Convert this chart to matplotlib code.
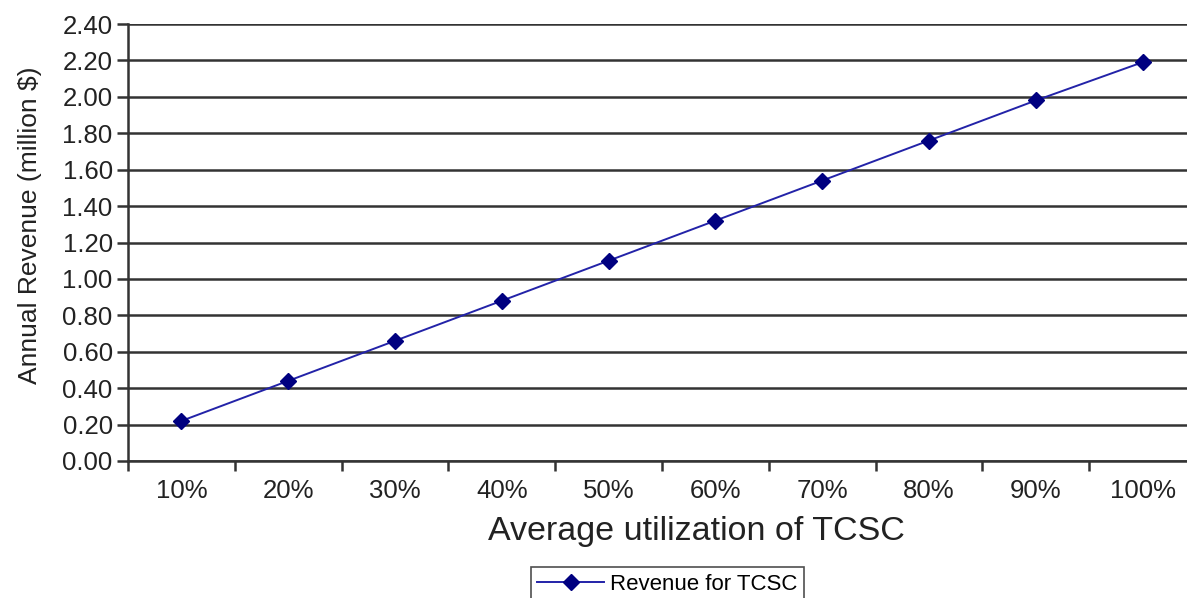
import matplotlib
matplotlib.use("Agg")
import matplotlib.pyplot as plt
import numpy as np

categories = ["10%", "20%", "30%", "40%", "50%", "60%", "70%", "80%", "90%", "100%"]
revenue = [0.22, 0.44, 0.66, 0.88, 1.10, 1.32, 1.54, 1.76, 1.98, 2.19]
yticks = [0.0, 0.2, 0.4, 0.6, 0.8, 1.0, 1.2, 1.4, 1.6, 1.8, 2.0, 2.2, 2.4]

plt.rcParams['font.family'] = ['Liberation Sans', 'DejaVu Sans']

fig = plt.figure(figsize=(11.87, 5.98), dpi=100)
W, H = 1187, 598
left, right, top, bottom = 128, 1196, 24, 461
ax = fig.add_axes([left / W, 1 - bottom / H, (right - left) / W, (bottom - top) / H])

x = np.arange(len(categories))
ax.plot(x, revenue, color='#2323a8', lw=1.4, marker='D', markersize=8,
        markerfacecolor='#000080', markeredgecolor='#000080', label='Revenue for TCSC',
        zorder=3)

ax.set_xlim(-0.5, len(categories) - 0.5)
ax.set_ylim(0, 2.4)
ax.set_yticks(yticks)
ax.set_yticklabels([f"{v:.2f}" for v in yticks])
ax.yaxis.grid(True, color='#333333', lw=1.8)
ax.set_axisbelow(True)

ax.set_xticks(x)
ax.set_xticklabels(categories)
ax.set_xticks(np.arange(-0.5, len(categories)), minor=True)
ax.tick_params(axis='x', which='major', length=0, pad=13, labelsize=18.5, colors='#222222')
ax.tick_params(axis='x', which='minor', length=7, width=1.8, color='#333333', direction='out')
ax.tick_params(axis='y', length=8, width=1.8, color='#333333', labelsize=18.5, pad=3,
               labelcolor='#222222')

for s in ['top', 'right']:
    ax.spines[s].set_visible(False)
ax.spines['left'].set_color('#333333')
ax.spines['left'].set_linewidth(1.8)
ax.spines['bottom'].set_color('#333333')
ax.spines['bottom'].set_linewidth(1.8)

ax.set_ylabel("Annual Revenue (million $)", fontsize=19, color='#222222')
ax.yaxis.set_label_coords(-0.0805, 0.54)
ax.set_xlabel("Average utilization of TCSC", fontsize=24.5, color='#222222')
ax.xaxis.set_label_coords(0.532, -0.125)

leg = fig.legend(loc='upper center', bbox_to_anchor=(0.562, 0.052), fontsize=16,
                 frameon=True, fancybox=False, edgecolor='#222222', handlelength=3.0,
                 borderpad=0.3, handletextpad=0.25, borderaxespad=0)
leg.get_frame().set_linewidth(1.2)

fig.savefig("out.png", dpi=100)
